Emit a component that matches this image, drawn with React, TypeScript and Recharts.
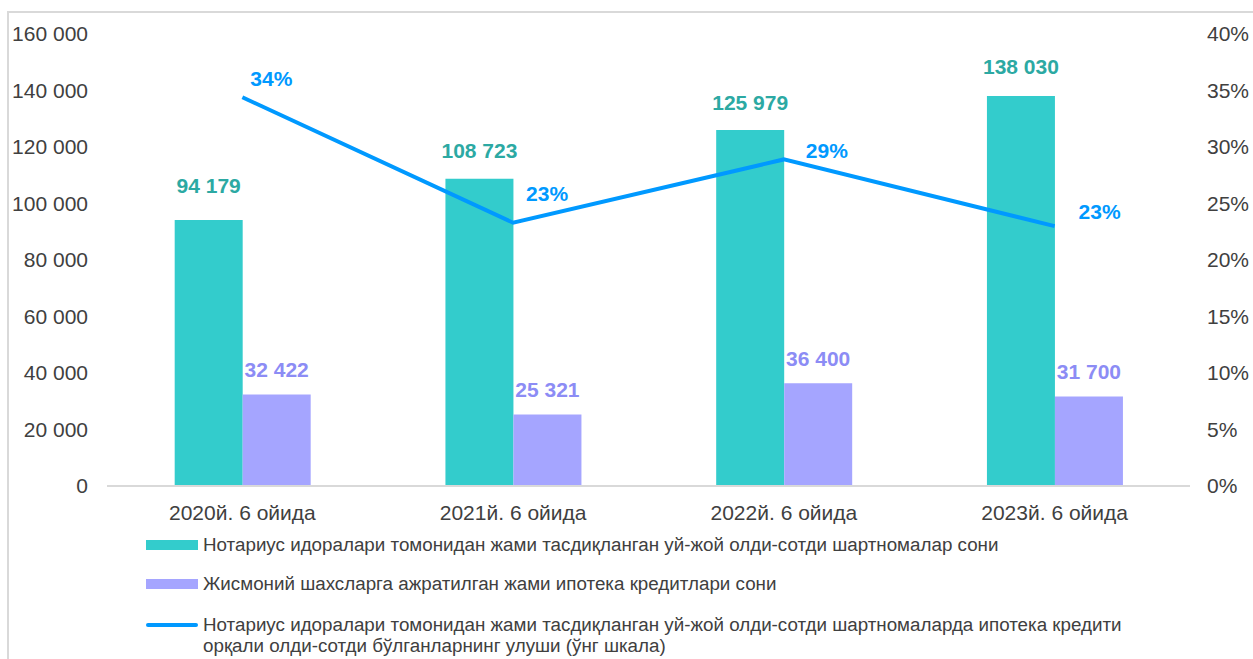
import {
  ComposedChart,
  Bar,
  Line,
  XAxis,
  YAxis,
  LabelList,
} from "recharts";

const categories = [
  "2020й. 6 ойида",
  "2021й. 6 ойида",
  "2022й. 6 ойида",
  "2023й. 6 ойида",
];
const notaryContracts = [94179, 108723, 125979, 138030];
const mortgageLoans = [32422, 25321, 36400, 31700];
const mortgageShare = [0.344, 0.233, 0.289, 0.23];

const leftTicks = [0, 20000, 40000, 60000, 80000, 100000, 120000, 140000, 160000];
const rightTicks = [0, 0.05, 0.1, 0.15, 0.2, 0.25, 0.3, 0.35, 0.4];

const legendLabels = [
  "Нотариус идоралари томонидан жами тасдиқланган уй-жой олди-сотди шартномалар сони",
  "Жисмоний шахсларга ажратилган жами ипотека кредитлари сони",
  "Нотариус идоралари томонидан жами тасдиқланган уй-жой олди-сотди шартномаларда ипотека кредити орқали олди-сотди бўлганларнинг улуши (ўнг шкала)",
];

const data = categories.map((name, i) => ({
  name,
  contracts: notaryContracts[i],
  loans: mortgageLoans[i],
  share: mortgageShare[i],
}));

const FONT = "'Liberation Sans', Arial, sans-serif";
const TEAL = "#33CCCC";
const PURPLE = "#A5A5FF";
const BLUE = "#0099FF";

const fmtThousands = (v: number) =>
  String(v).replace(/\B(?=(\d{3})+(?!\d))/g, " ");
const fmtPct = (v: number) => `${Math.round(v * 100)}%`;

// label nudges, picked to sit like the original
const tealLift = [27, 21, 20, 22];
const purpleLift = [17, 17, 17, 17];
const shareShift = [
  [29, -11],
  [34, -22],
  [43, -1],
  [45, -7],
];

const barLabel = (color: string, lift: number[]) => (props: any) => {
  const { x, y, width, value, index } = props;
  return (
    <text
      x={Number(x) + Number(width) / 2}
      y={Number(y) - lift[index]}
      textAnchor="middle"
      fill={color}
      fontSize={21}
      fontWeight="bold"
      fontFamily={FONT}
    >
      {fmtThousands(value)}
    </text>
  );
};

const shareLabel = (props: any) => {
  const { x, y, value, index } = props;
  const [dx, dy] = shareShift[index];
  return (
    <text
      x={Number(x) + dx}
      y={Number(y) + dy}
      textAnchor="middle"
      fill={BLUE}
      fontSize={21}
      fontWeight="bold"
      fontFamily={FONT}
    >
      {fmtPct(value)}
    </text>
  );
};

function LegendBlock() {
  const swatches = [
    <div style={{ width: 52, height: 10, background: TEAL }} />,
    <div style={{ width: 52, height: 10, background: PURPLE }} />,
    <div style={{ width: 52, height: 4, borderRadius: 2, background: BLUE }} />,
  ];
  const tops = [534, 573, 614];
  return (
    <>
      {legendLabels.map((label, i) => (
        <div
          key={i}
          style={{
            position: "absolute",
            left: 146,
            top: tops[i],
            display: "flex",
            alignItems: "flex-start",
            fontFamily: FONT,
            fontSize: 18.8,
            lineHeight: "21px",
            color: "#404040",
          }}
        >
          <div
            style={{
              width: 57,
              height: 21,
              display: "flex",
              alignItems: "center",
            }}
          >
            {swatches[i]}
          </div>
          <div style={{ width: 950 }}>{label}</div>
        </div>
      ))}
    </>
  );
}

export default function App() {
  return (
    <>
      <div
        style={{
          position: "absolute",
          left: 7,
          top: 11,
          width: 1246,
          height: 648,
          boxSizing: "border-box",
          borderTop: "2px solid #d9d9d9",
          borderLeft: "2px solid #d9d9d9",
          background: "#fff",
        }}
      />
      <div style={{ position: "absolute", left: 0, top: 0 }}>
        <ComposedChart
          width={1253}
          height={540}
          data={data}
          margin={{ top: 34, right: 0, bottom: 20, left: 0 }}
          barCategoryGap="25%"
          barGap={0}
        >
          <XAxis
            dataKey="name"
            height={34}
            axisLine={{ stroke: "#d9d9d9", strokeWidth: 2 }}
            tickLine={false}
            tickMargin={13}
            tick={{ fill: "#404040", fontSize: 21, fontFamily: FONT }}
          />
          <YAxis
            yAxisId="left"
            width={107}
            domain={[0, 160000]}
            ticks={leftTicks}
            tickFormatter={fmtThousands}
            axisLine={false}
            tickLine={false}
            tickMargin={13}
            tick={{ fill: "#404040", fontSize: 21, fontFamily: FONT }}
          />
          <YAxis
            yAxisId="right"
            orientation="right"
            width={63}
            domain={[0, 0.4]}
            ticks={rightTicks}
            tickFormatter={fmtPct}
            axisLine={false}
            tickLine={false}
            tickMargin={11}
            tick={{ fill: "#404040", fontSize: 21, fontFamily: FONT }}
          />
          <Bar
            yAxisId="left"
            dataKey="contracts"
            fill={TEAL}
            isAnimationActive={false}
          >
            <LabelList dataKey="contracts" content={barLabel("#2CA9A3", tealLift)} />
          </Bar>
          <Bar
            yAxisId="left"
            dataKey="loans"
            fill={PURPLE}
            isAnimationActive={false}
          >
            <LabelList dataKey="loans" content={barLabel("#8C8CF5", purpleLift)} />
          </Bar>
          <Line
            yAxisId="right"
            type="linear"
            dataKey="share"
            stroke={BLUE}
            strokeWidth={4}
            dot={false}
            isAnimationActive={false}
          >
            <LabelList dataKey="share" content={shareLabel} />
          </Line>
        </ComposedChart>
      </div>
      <LegendBlock />
    </>
  );
}
